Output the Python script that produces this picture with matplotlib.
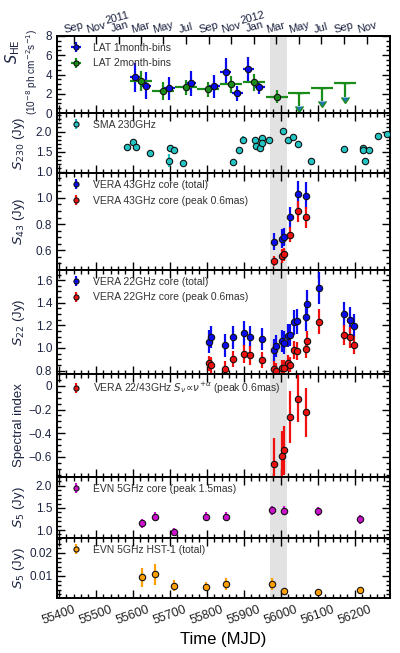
import matplotlib
matplotlib.use('Agg')
import matplotlib.pyplot as plt
import numpy as np
from matplotlib.ticker import MultipleLocator, FuncFormatter

plt.rcParams['font.family'] = ['Liberation Sans', 'DejaVu Sans']
plt.rcParams['mathtext.fontset'] = 'dejavusans'

# ---------------- data ----------------
# LAT 1-month bins
lat1_t = [55606, 55635, 55698, 55757, 55820, 55851, 55882, 55912, 55942]
lat1_f = [3.7, 2.85, 2.57, 3.1, 2.8, 4.3, 2.05, 4.55, 2.65]
lat1_e = [1.5, 1.4, 1.2, 1.3, 1.2, 1.4, 0.8, 1.3, 0.7]
# LAT 2-month bins
lat2_t = [55621, 55682, 55744, 55804, 55865, 55927, 55989]
lat2_f = [3.33, 2.3, 2.67, 2.46, 2.98, 3.2, 1.7]
lat2_e = [1.0, 0.9, 0.8, 0.8, 0.9, 0.9, 0.7]
# LAT 2-month upper limits
lat2ul_t = [56050, 56111, 56173]
lat2ul_f = [2.1, 2.6, 3.1]

# SMA 230 GHz
sma_t = [55583, 55600, 55609, 55646, 55698, 55700, 55712, 55735, 55872, 55888,
         55897, 55930, 55933, 55944, 55948, 55948, 55968, 56007, 56020, 56034,
         56045, 56081, 56171, 56221, 56223, 56228, 56237, 56262, 56286]
sma_f = [1.62, 1.75, 1.62, 1.46, 1.28, 1.59, 1.54, 1.22, 1.25, 1.54,
         1.80, 1.80, 1.63, 1.60, 1.85, 1.72, 1.80, 2.02, 1.80, 1.86,
         1.69, 1.28, 1.56, 1.59, 1.53, 1.28, 1.55, 1.89, 1.95]
sma_e = [0.04, 0.05, 0.04, 0.04, 0.15, 0.06, 0.04, 0.04, 0.04, 0.04,
         0.08, 0.05, 0.05, 0.07, 0.05, 0.05, 0.04, 0.05, 0.04, 0.04,
         0.04, 0.06, 0.04, 0.04, 0.04, 0.05, 0.04, 0.05, 0.05]

# VERA 43 GHz
v43_t = [55982, 56002, 56009, 56025, 56045, 56067]
v43_tot = [0.664, 0.69, 0.70, 0.854, 1.026, 1.018]
v43_tot_e = [0.065, 0.07, 0.07, 0.08, 0.1, 0.1]
v43_pk = [0.517, 0.557, 0.57, 0.72, 0.90, 0.854]
v43_pk_e = [0.04, 0.05, 0.05, 0.06, 0.08, 0.08]

# VERA 22 GHz
v22_t = [55807, 55811, 55849, 55870, 55900, 55917, 55950, 55982, 55987, 56002,
         56008, 56020, 56025, 56036, 56043, 56067, 56072, 56103, 56171, 56187, 56198]
v22_tot = [1.057, 1.098, 1.024, 1.093, 1.13, 1.098, 1.078, 0.979, 1.018, 1.062,
           1.048, 1.11, 1.116, 1.227, 1.236, 1.272, 1.39, 1.532, 1.30, 1.25, 1.197]
v22_tot_e = [0.1, 0.1, 0.1, 0.1, 0.11, 0.1, 0.1, 0.1, 0.1, 0.1,
             0.1, 0.1, 0.1, 0.11, 0.11, 0.12, 0.12, 0.14, 0.11, 0.11, 0.1]
v22_pk = [0.863, 0.848, 0.815, 0.905, 0.95, 0.934, 0.892, 0.815, 0.80, 0.824,
          0.82, 0.869, 0.854, 0.98, 0.973, 0.988, 1.063, 1.233, 1.116, 1.093, 1.027]
v22_pk_e = [0.07, 0.07, 0.07, 0.07, 0.08, 0.08, 0.07, 0.07, 0.07, 0.07,
            0.07, 0.07, 0.07, 0.08, 0.08, 0.08, 0.09, 0.11, 0.09, 0.09, 0.08]

# Spectral index 22/43 GHz
si_t = [55982, 56002, 56009, 56025, 56045, 56067]
si_v = [-0.66, -0.59, -0.545, -0.26, -0.107, -0.225]
si_e = [0.22, 0.21, 0.21, 0.22, 0.2, 0.21]

# EVN 5 GHz core
evn_t = [55626, 55660, 55712, 55798, 55852, 55975, 56008, 56100, 56214]
evn_core = [1.15, 1.30, 0.96, 1.30, 1.30, 1.45, 1.44, 1.42, 1.24]
evn_core_e = [0.1, 0.1, 0.08, 0.1, 0.1, 0.1, 0.1, 0.1, 0.1]
# EVN 5 GHz HST-1
evn_hst = [0.0094, 0.0107, 0.0058, 0.0054, 0.0065, 0.0064, 0.0035, 0.0028, 0.0039]
evn_hst_e = [0.004, 0.0045, 0.0025, 0.002, 0.0025, 0.0025, 0.001, 0.0012, 0.001]

band = [55972, 56016]
month_ticks = [55440, 55501, 55562, 55621, 55682, 55743, 55805, 55866, 55927,
               55987, 56048, 56109, 56171, 56232]
month_labels = ['Sep', 'Nov', '2011\nJan', 'Mar', 'May', 'Jul', 'Sep', 'Nov',
                '2012\nJan', 'Mar', 'May', 'Jul', 'Sep', 'Nov']

# ---------------- layout ----------------
W, H = 400, 653
fig = plt.figure(figsize=(W / 100, H / 100), dpi=100)
xl, xr = 57, 390
bounds = [36, 113, 173, 270, 374, 477, 538, 598]
axes = []
for i in range(7):
    t, b = bounds[i], bounds[i + 1]
    ax = fig.add_axes([xl / W, 1 - b / H, (xr - xl) / W, (b - t) / H])
    axes.append(ax)

xlim = (55395, 56295)
lab_col = '#1c2340'
txt_col = '#333333'


def style(ax, ylim, major, minor, fmt, top=True):
    ax.set_xlim(*xlim)
    ax.set_ylim(*ylim)
    ax.axvspan(band[0], band[1], color='#e2e2e2', lw=0, zorder=0)
    ax.xaxis.set_major_locator(MultipleLocator(100))
    ax.xaxis.set_minor_locator(MultipleLocator(20))
    ax.yaxis.set_major_locator(MultipleLocator(major))
    ax.yaxis.set_minor_locator(MultipleLocator(minor))
    ax.yaxis.set_major_formatter(FuncFormatter(fmt))
    ax.tick_params(which='both', direction='in', top=top, right=True,
                   width=1.0, colors='k', labelcolor=lab_col, labelsize=8.5)
    ax.tick_params(which='major', length=6)
    ax.tick_params(which='minor', length=3)
    ax.tick_params(axis='x', labelbottom=False)
    for s in ax.spines.values():
        s.set_linewidth(1.4)


def f1(v, p):
    return '%d' % round(v)


def f_1dec(v, p):
    return ('%.1f' % v)


def f_si(v, p):
    if abs(v) < 1e-9:
        return '0'
    return ('%.1f' % v).replace('-', '\u2212')


def f_2dec(v, p):
    return '%.2f' % v


def eb(ax, x, y, ye, col, xe=None, ms=4.6, label=None):
    return ax.errorbar(x, y, yerr=ye, xerr=xe, fmt='o', color=col, ecolor=col,
                       mfc=col, mec='#111111', mew=0.8, ms=ms, elinewidth=1.6,
                       capsize=0, label=label, zorder=3)


def leg(ax, **kw):
    L = ax.legend(loc='upper left', bbox_to_anchor=(0.022, 1.0), frameon=False,
                  fontsize=7.5, handlelength=0.9, handletextpad=1.2,
                  borderaxespad=0.25, labelspacing=0.55, borderpad=0.4,
                  markerscale=0.8, **kw)
    for t in L.get_texts():
        t.set_color(txt_col)
    return L


# Panel 1: Fermi LAT
ax = axes[0]
style(ax, (0, 8), 2, 0.5, f1, top=False)
eb(ax, lat1_t, lat1_f, lat1_e, '#0a0af0', xe=15, label='LAT 1month-bins')
eb(ax, lat2_t, lat2_f, lat2_e, '#1a8c1a', xe=30, label='LAT 2month-bins')
ax.errorbar(lat2ul_t, lat2ul_f, xerr=30, fmt='none', ecolor='#1a8c1a', elinewidth=1.6)
ax.errorbar(lat2ul_t, lat2ul_f, yerr=1.4, uplims=True, fmt='none', ecolor='#1a8c1a',
            elinewidth=1.6, capsize=3)
leg(ax)
axt = ax.twiny()
axt.set_xlim(*xlim)
axt.set_xticks(month_ticks)
axt.set_xticklabels(month_labels, rotation=15, ha='center', fontsize=8,
                    color=lab_col, linespacing=0.9)
axt.tick_params(axis='x', direction='in', length=6, width=1.0, pad=1)
axt.xaxis.set_minor_locator(plt.NullLocator())
for s in axt.spines.values():
    s.set_linewidth(1.4)

# Panel 2: SMA
ax = axes[1]
style(ax, (0.97, 2.46), 0.5, 0.1, f_1dec)
eb(ax, sma_t, sma_f, sma_e, '#22c4c4', label='SMA 230GHz')
leg(ax)

# Panel 3: VERA 43
ax = axes[2]
style(ax, (0.45, 1.19), 0.2, 0.05, f_1dec)
eb(ax, v43_t, v43_tot, v43_tot_e, '#0a0af0', label='VERA 43GHz core (total)')
eb(ax, v43_t, v43_pk, v43_pk_e, '#f01010', label='VERA 43GHz core (peak 0.6mas)')
leg(ax)

# Panel 4: VERA 22
ax = axes[3]
style(ax, (0.77, 1.69), 0.2, 0.05, f_1dec)
eb(ax, v22_t, v22_tot, v22_tot_e, '#0a0af0', label='VERA 22GHz core (total)')
eb(ax, v22_t, v22_pk, v22_pk_e, '#f01010', label='VERA 22GHz core (peak 0.6mas)')
leg(ax)

# Panel 5: spectral index
ax = axes[4]
style(ax, (-0.77, 0.1), 0.2, 0.05, f_si)
eb(ax, si_t, si_v, si_e, '#f01010',
   label=r'VERA 22/43GHz $S_\nu\!\propto\!\nu^{+\alpha}$ (peak 0.6mas)')
leg(ax)

# Panel 6: EVN core
ax = axes[5]
style(ax, (0.82, 2.2), 0.5, 0.1, f_1dec)
eb(ax, evn_t, evn_core, evn_core_e, '#cc11cc', label='EVN 5GHz core (peak 1.5mas)')
leg(ax)

# Panel 7: EVN HST-1
ax = axes[6]
style(ax, (0.0004, 0.0265), 0.01, 0.002, f_2dec)
eb(ax, evn_t, evn_hst, evn_hst_e, '#ffa000', label='EVN 5GHz HST-1 (total)')
leg(ax)
ax.tick_params(axis='x', labelbottom=True, labelsize=9, labelcolor='#222222', pad=4)
for t in ax.get_xticklabels():
    t.set_rotation(20)
    t.set_ha('center')
ax.set_xlabel('Time (MJD)', fontsize=12, labelpad=4)

# y labels
ylabels = [None, r'$S_{230}$ (Jy)', r'$S_{43}$ (Jy)', r'$S_{22}$ (Jy)',
           'Spectral index', r'$S_5$ (Jy)', r'$S_5$ (Jy)']
for i, lab in enumerate(ylabels):
    yc = 1 - (bounds[i] + bounds[i + 1]) / 2 / H
    if lab is None:
        fig.text(13 / W, 1 - 52 / H, r'$S_{\rm HE}$', rotation=90, ha='center',
                 va='center', fontsize=10.5, color=lab_col)
        fig.text(32 / W, 1 - 72 / H, r'(10$^{-8}$ ph cm$^{-2}$s$^{-1}$)', rotation=90,
                 ha='center', va='center', fontsize=7.2, color=lab_col)
    else:
        fig.text(19 / W, yc, lab, rotation=90, ha='center', va='center',
                 fontsize=9.5, color=lab_col)

fig.savefig('out.png', dpi=100)
